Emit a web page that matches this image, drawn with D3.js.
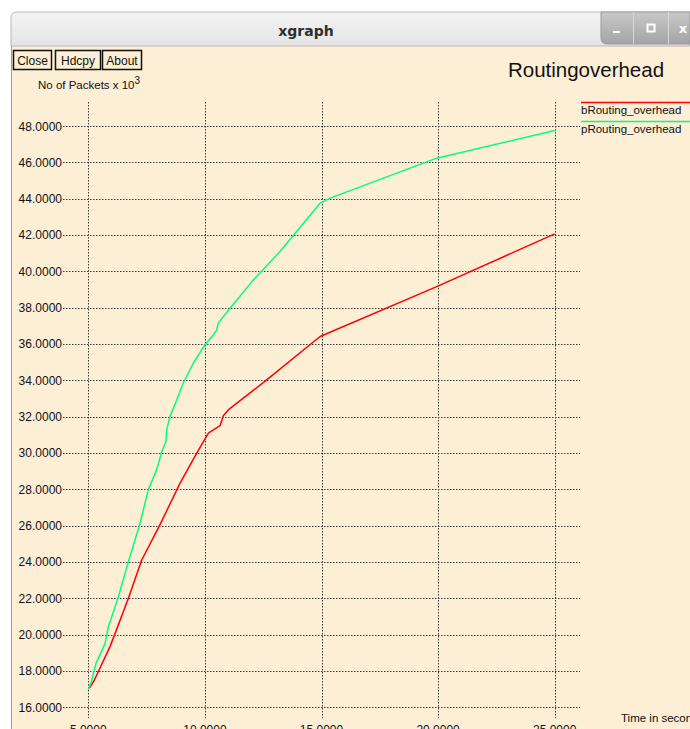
<!DOCTYPE html>
<html>
<head>
<meta charset="utf-8">
<script src="https://cdn.jsdelivr.net/npm/d3@7"></script>
<style>
html,body{margin:0;padding:0;background:#fff;overflow:hidden;}
svg{display:block;}
</style>
</head>
<body>
<svg id="chart" width="690" height="729"></svg>
<script>
// ---- data ----
const xTicks = [5, 10, 15, 20, 25];
const yTicks = [16, 18, 20, 22, 24, 26, 28, 30, 32, 34, 36, 38, 40, 42, 44, 46, 48];
const seriesNames = ["bRouting_overhead", "pRouting_overhead"];
const seriesColors = ["#ff0000", "#00ff7f"];
const bTime   = [5.05, 5.26, 5.93, 6.15, 6.72, 7.29, 8.07, 8.93, 9.65, 10.15, 10.65, 10.79, 11.00, 12.65, 14.94, 19.94, 25.0];
const bValues = [17.05, 17.50, 19.34, 20.07, 22.00, 24.11, 26.04, 28.33, 29.99, 31.09, 31.50, 32.05, 32.37, 34.02, 36.41, 39.16, 42.06];
const pTime   = [5.0, 5.15, 5.33, 5.72, 5.86, 6.29, 6.72, 7.22, 7.57, 7.93, 8.15, 8.33, 8.36, 8.50, 8.79, 9.07, 9.50, 10.00, 10.36, 10.51, 10.57, 11.08, 12.08, 13.22, 14.94, 15.37, 19.94, 25.0];
const pValues = [16.95, 17.50, 18.42, 19.52, 20.44, 22.09, 24.02, 26.13, 27.97, 29.07, 30.07, 30.63, 31.27, 32.00, 32.92, 33.84, 34.94, 35.95, 36.50, 36.77, 37.15, 37.97, 39.53, 41.09, 43.75, 44.03, 46.23, 47.75];
const titleText = "Routingoverhead";
const yAxisLabel = "No of Packets x 10";
const xAxisLabel = "Time in seconds";
const windowTitle = "xgraph";
const buttonLabels = ["Close", "Hdcpy", "About"];

// ---- drawing ----
const svg = d3.select("#chart");
const FONT = "'Liberation Sans', Arial, sans-serif";

const x = d3.scaleLinear().domain([5, 25]).range([88.3, 554.7]);
const y = d3.scaleLinear().domain([16, 48]).range([707.3, 126]);

// window background
svg.append("rect").attr("x", 0).attr("y", 0).attr("width", 690).attr("height", 729).attr("fill", "#ffffff");
svg.append("rect").attr("x", 12).attr("y", 44).attr("width", 678).attr("height", 685).attr("fill", "#fdeed6");
svg.append("line").attr("x1", 11.5).attr("x2", 11.5).attr("y1", 40).attr("y2", 729).attr("stroke", "#9a9a9a").attr("stroke-width", 1);

// title bar
const defs = svg.append("defs");
const g1 = defs.append("linearGradient").attr("id", "tb").attr("x1", 0).attr("x2", 0).attr("y1", 0).attr("y2", 1);
g1.append("stop").attr("offset", "0%").attr("stop-color", "#f4f4f4");
g1.append("stop").attr("offset", "100%").attr("stop-color", "#e4e4e4");
const g2 = defs.append("linearGradient").attr("id", "bt").attr("x1", 0).attr("x2", 0).attr("y1", 0).attr("y2", 1);
g2.append("stop").attr("offset", "0%").attr("stop-color", "#c8c8c8");
g2.append("stop").attr("offset", "100%").attr("stop-color", "#a4a4a4");

svg.append("path")
  .attr("d", "M11,46 L11,18 Q11,12 17,12 L690,12 L690,46 Z")
  .attr("fill", "url(#tb)").attr("stroke", "#b8b8b8").attr("stroke-width", 1);
svg.append("text").attr("x", 306).attr("y", 36).attr("text-anchor", "middle")
  .attr("font-family", "'DejaVu Sans', sans-serif").attr("font-weight", "bold").attr("font-size", 14)
  .attr("fill", "#2e2e2e").text(windowTitle);

// window controls
svg.append("path")
  .attr("d", "M601,12 L690,12 L690,44 L607,44 Q601,44 601,38 Z")
  .attr("fill", "url(#bt)").attr("stroke", "#9a9a9a");
[633, 668].forEach(px => {
  svg.append("line").attr("x1", px + 0.5).attr("x2", px + 0.5).attr("y1", 12).attr("y2", 44).attr("stroke", "#d8d8d8");
});
svg.append("rect").attr("x", 613).attr("y", 31).attr("width", 7).attr("height", 2).attr("fill", "#ffffff");
svg.append("rect").attr("x", 647.5).attr("y", 24.5).attr("width", 7).attr("height", 7).attr("fill", "none").attr("stroke", "#ffffff").attr("stroke-width", 2);
svg.append("text").attr("x", 683).attr("y", 33).attr("text-anchor", "middle")
  .attr("font-family", "'DejaVu Sans', sans-serif").attr("font-weight", "bold").attr("font-size", 13)
  .attr("fill", "#ffffff").text("x");

// buttons
const btnX = [13, 55, 102];
const btnW = [38, 45, 39];
buttonLabels.forEach((b, i) => {
  svg.append("rect").attr("x", btnX[i] + 0.5).attr("y", 50.5).attr("width", btnW[i]).attr("height", 19)
    .attr("fill", "#fdeed6").attr("stroke", "#111").attr("stroke-width", 1.5);
  svg.append("text").attr("x", btnX[i] + btnW[i] / 2 + 0.5).attr("y", 64.5).attr("text-anchor", "middle")
    .attr("font-family", FONT).attr("font-size", 12).attr("fill", "#111").text(b);
});

// y axis label
const yl = svg.append("text").attr("x", 38).attr("y", 89).attr("font-family", FONT).attr("font-size", 11.5).attr("fill", "#111");
yl.append("tspan").text(yAxisLabel);
yl.append("tspan").attr("dy", -5).attr("font-size", 10).text("3");

// title
svg.append("text").attr("x", 586).attr("y", 77).attr("text-anchor", "middle")
  .attr("font-family", FONT).attr("font-size", 20.5).attr("fill", "#111").text(titleText);

// grid
const grid = svg.append("g").attr("stroke", "#3a3a3a").attr("stroke-width", 1).attr("stroke-dasharray", "1.5,1.5");
yTicks.forEach(v => {
  grid.append("line").attr("x1", 63).attr("x2", 580).attr("y1", Math.round(y(v)) + 0.5).attr("y2", Math.round(y(v)) + 0.5);
});
xTicks.forEach(v => {
  grid.append("line").attr("x1", Math.round(x(v)) + 0.5).attr("x2", Math.round(x(v)) + 0.5).attr("y1", 102).attr("y2", 718);
});

// tick labels
const fmt = d3.format(".4f");
yTicks.forEach(v => {
  svg.append("text").attr("x", 62).attr("y", y(v) + 4.5).attr("text-anchor", "end")
    .attr("font-family", FONT).attr("font-size", 12).attr("fill", "#111").text(fmt(v));
});
xTicks.forEach(v => {
  svg.append("text").attr("x", x(v)).attr("y", 734).attr("text-anchor", "middle")
    .attr("font-family", FONT).attr("font-size", 12).attr("fill", "#111").text(fmt(v));
});
svg.append("text").attr("x", 621).attr("y", 722).attr("font-family", FONT).attr("font-size", 11.5)
  .attr("fill", "#111").text(xAxisLabel);

// lines
const line = d3.line().x(d => x(d[0])).y(d => y(d[1]));
const bData = bTime.map((t, i) => [t, bValues[i]]);
const pData = pTime.map((t, i) => [t, pValues[i]]);
[bData, pData].forEach((data, i) => {
  svg.append("path").datum(data).attr("d", line).attr("fill", "none")
    .attr("stroke", seriesColors[i]).attr("stroke-width", 1.5).attr("stroke-linejoin", "round");
});

// legend
const legY = [102.5, 121.5];
seriesNames.forEach((n, i) => {
  svg.append("line").attr("x1", 581).attr("x2", 690).attr("y1", legY[i]).attr("y2", legY[i])
    .attr("stroke", seriesColors[i]).attr("stroke-width", 1.5);
  svg.append("text").attr("x", 581).attr("y", legY[i] + 11.5).attr("font-family", FONT).attr("font-size", 11.5)
    .attr("fill", "#111").text(n);
});
</script>
</body>
</html>
